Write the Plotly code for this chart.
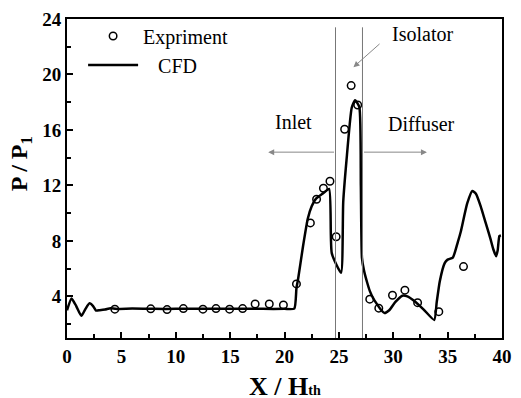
import plotly.graph_objects as go

# CFD curve
cfd_x = [0, 0.42, 0.85, 1.32, 1.7, 2.07, 2.4, 2.67, 3.0, 3.5, 4.0, 4.5, 6, 8, 10, 12, 14, 16, 18, 20,
         20.9, 21.1, 21.24, 21.7, 22.14, 22.5, 22.9, 23.5, 24.1, 24.35, 25.2, 25.4, 25.7, 26.18, 26.49,
         26.88, 27.02, 27.12, 27.3, 27.6, 27.84, 28.2, 28.58, 28.9, 29.19, 29.63, 30.2, 30.83, 31.3,
         31.88, 32.8, 33.77, 34.0, 34.28, 34.73, 35.0, 35.48, 35.93, 36.22, 36.8, 37.27, 37.6, 38.02,
         38.5, 38.92, 39.2, 39.46, 39.6, 39.76, 39.9]
cfd_y = [3.0, 3.85, 3.3, 2.6, 3.1, 3.5, 3.3, 2.98, 3.0, 3.05, 3.15, 3.1, 3.12, 3.1, 3.1, 3.1, 3.1, 3.1, 3.1, 3.1,
         3.12, 4.6, 5.2, 7.6, 9.6, 10.5, 11.05, 11.4, 11.75, 7.1, 5.7, 10.8, 13.8, 17.6, 18.15,
         17.65, 12.0, 6.8, 5.9, 5.0, 4.4, 3.8, 3.35, 3.0, 2.8, 3.0, 3.6, 4.05, 4.0,
         3.7, 3.05, 2.3, 3.6, 5.1, 6.4, 6.65, 6.8, 7.9, 8.7, 10.7, 11.6, 11.4, 10.55,
         9.3, 8.2, 7.4, 6.9, 7.3, 8.35, 8.4]

# Experiment points
exp_x = [4.4, 7.7, 9.2, 10.7, 12.5, 13.7, 14.95, 16.15, 17.3, 18.6, 19.9, 21.1, 22.38, 22.95, 23.58,
         24.18, 24.75, 25.53, 26.13, 26.73, 27.84, 28.67, 29.93, 31.07, 32.24, 34.19, 36.46]
exp_y = [3.08, 3.1, 3.05, 3.12, 3.08, 3.12, 3.08, 3.12, 3.45, 3.45, 3.38, 4.9, 9.3, 11.0, 11.8,
         12.3, 8.3, 16.05, 19.2, 17.8, 3.8, 3.15, 4.08, 4.45, 3.55, 2.9, 6.15]

x_ticks = [0, 5, 10, 15, 20, 25, 30, 35, 40]
y_ticks = [4, 8, 12, 16, 20, 24]
section_bounds = [24.69, 27.17]

FONT = "Liberation Serif"
fig = go.Figure()
fig.add_trace(go.Scatter(x=exp_x, y=exp_y, mode="markers", name="Expriment",
                         marker=dict(symbol="circle-open", size=7.5, color="black",
                                     line=dict(width=1.5, color="black"))))
fig.add_trace(go.Scatter(x=cfd_x, y=cfd_y, mode="lines", name="\u00a0\u00a0\u00a0CFD",
                         line=dict(color="black", width=2.5, shape="spline", smoothing=0.5)))

for xb in section_bounds:
    fig.add_shape(type="line", xref="x", yref="y", x0=xb, x1=xb, y0=1, y1=23.4,
                  line=dict(color="#777777", width=1))

arrow_color = "#888888"
# Inlet arrow (points left)
fig.add_annotation(x=18.5, y=14.4, ax=section_bounds[0], ay=14.4, xref="x", yref="y",
                   axref="x", ayref="y", text="", showarrow=True, arrowhead=2,
                   arrowsize=1.2, arrowwidth=1, arrowcolor=arrow_color)
# Diffuser arrow (points right)
fig.add_annotation(x=33.1, y=14.4, ax=section_bounds[1], ay=14.4, xref="x", yref="y",
                   axref="x", ayref="y", text="", showarrow=True, arrowhead=2,
                   arrowsize=1.2, arrowwidth=1, arrowcolor=arrow_color)
# Isolator arrow
fig.add_annotation(x=26.34, y=20.53, ax=28.88, ay=22.3, xref="x", yref="y",
                   axref="x", ayref="y", text="", showarrow=True, arrowhead=2,
                   arrowsize=1.2, arrowwidth=1, arrowcolor=arrow_color)

txt_font = dict(family=FONT, size=20, color="black")
fig.add_annotation(x=20.8, y=16.6, xref="x", yref="y", text="Inlet", showarrow=False,
                   xanchor="center", yanchor="middle", font=txt_font)
fig.add_annotation(x=32.6, y=16.45, xref="x", yref="y", text="Diffuser", showarrow=False,
                   xanchor="center", yanchor="middle", font=txt_font)
fig.add_annotation(x=32.7, y=22.9, xref="x", yref="y", text="Isolator", showarrow=False,
                   xanchor="center", yanchor="middle", font=txt_font)

# Axis titles
fig.add_annotation(x=0.5, y=-0.151, xref="paper", yref="paper", xanchor="center", yanchor="middle",
                   text="<b>X / H<span style='font-size:14px'>th</span></b>", showarrow=False,
                   font=dict(family=FONT, size=26, color="black"))
fig.add_annotation(x=-0.1056, y=0.545, xref="paper", yref="paper", textangle=-90,
                   xanchor="center", yanchor="middle",
                   text="<b>P / P<sub>1</sub></b>", showarrow=False,
                   font=dict(family=FONT, size=24, color="black"))

axis_common = dict(showgrid=False, zeroline=False, showline=True, linecolor="black", linewidth=2,
                   mirror=True, ticks="inside", ticklen=6, tickwidth=2, tickcolor="black",
                   tickfont=dict(family=FONT, size=19, color="black", weight="bold"))
fig.update_xaxes(range=[0, 40], tickvals=x_ticks, ticktext=[str(v) for v in x_ticks],
                 minor=dict(ticks="inside", ticklen=4, tickwidth=2, tickcolor="black", dtick=2.5, tick0=0),
                 **axis_common)
fig.update_yaxes(range=[1, 24], tickvals=y_ticks, ticktext=[str(v) for v in y_ticks],
                 minor=dict(ticks="inside", ticklen=4, tickwidth=2, tickcolor="black", dtick=2, tick0=0),
                 **axis_common)

fig.update_layout(width=521, height=398, margin=dict(l=67, r=9, t=15, b=60),
                  paper_bgcolor="white", plot_bgcolor="white",
                  font=dict(family=FONT, color="black"),
                  showlegend=True,
                  legend=dict(x=0.037, y=1.008, xanchor="left", yanchor="top",
                              bgcolor="rgba(0,0,0,0)", itemwidth=50,
                              font=dict(family=FONT, size=20, color="black"),
                              tracegroupgap=0))
fig.write_html("out.html")
